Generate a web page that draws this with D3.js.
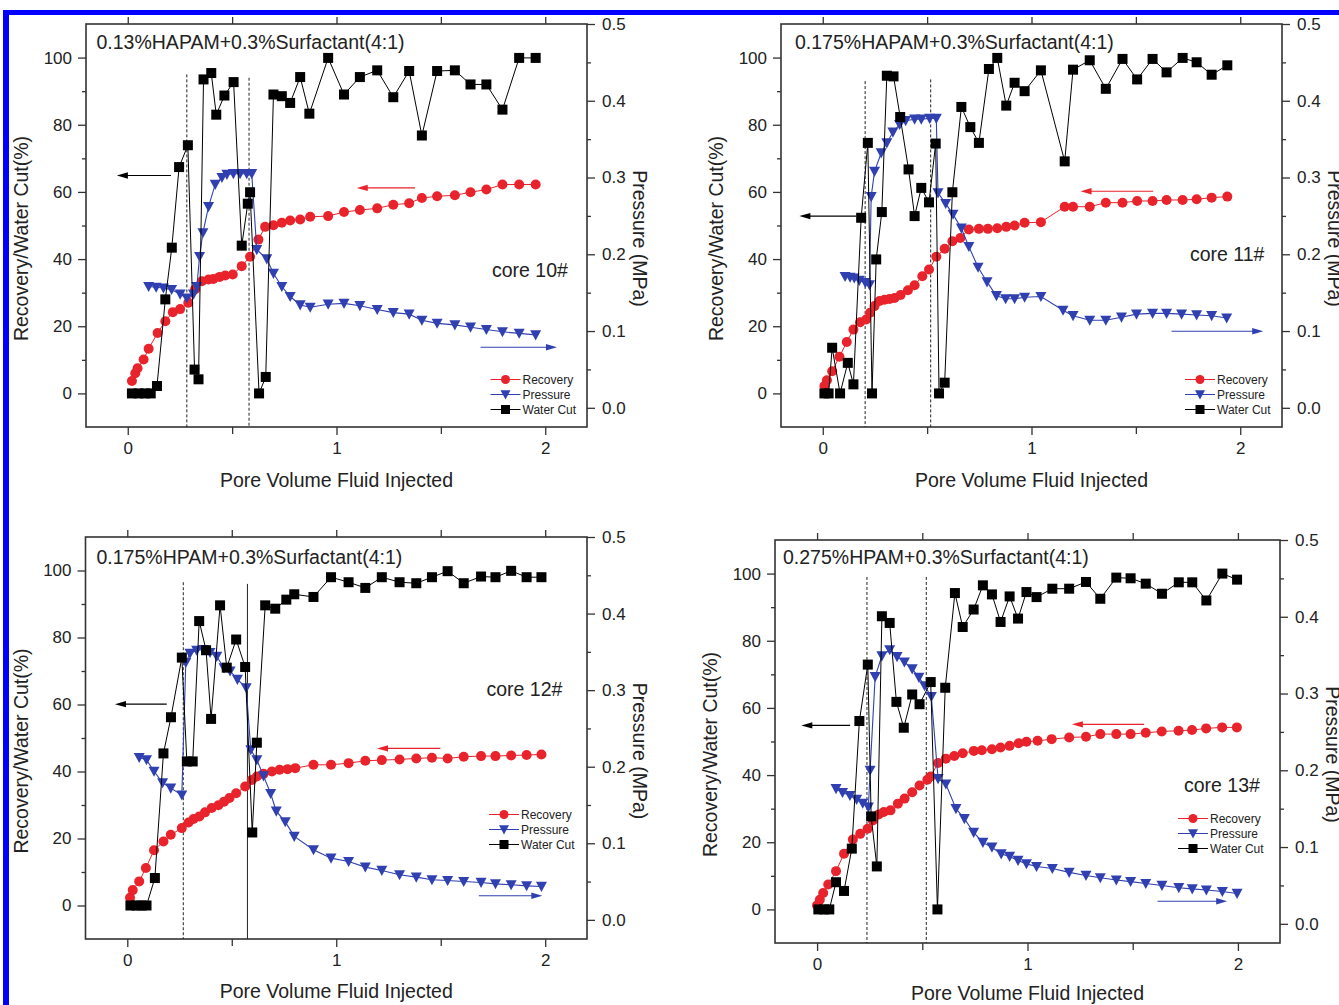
<!DOCTYPE html>
<html><head><meta charset="utf-8">
<script src="https://cdn.jsdelivr.net/npm/d3@7"></script>
<style>body{margin:0;background:#fff}svg{display:block}</style>
</head><body>
<svg id="chart" width="1339" height="1005"></svg>
<script>
// ---------- DATA (x = pore volume injected; recovery & water cut in %, pressure in MPa) ----------
const xTicks = [0, 1, 2];
const xMinorTicks = [0.5, 1.5];
const leftTicks = [0, 20, 40, 60, 80, 100];
const leftMinorTicks = [10, 30, 50, 70, 90];
const rightTicks = [0, 0.1, 0.2, 0.3, 0.4, 0.5];
const rightMinorTicks = [0.05, 0.15, 0.25, 0.35, 0.45];
const seriesNames = ["Recovery", "Pressure", "Water Cut"];
const titles = ["0.13%HAPAM+0.3%Surfactant(4:1)", "0.175%HAPAM+0.3%Surfactant(4:1)",
                "0.175%HPAM+0.3%Surfactant(4:1)", "0.275%HPAM+0.3%Surfactant(4:1)"];
const coreLabels = ["core 10#", "core 11#", "core 12#", "core 13#"];

const recovery10 = [[0.02,3.7],[0.036,6.0],[0.047,7.5],[0.076,10.1],[0.10,13.3],[0.143,18.0],[0.18,21.5],[0.216,24.2],[0.251,25.1],[0.29,27.0],[0.323,31.0],[0.355,33.4],[0.387,33.9],[0.41,34.1],[0.44,34.7],[0.467,35.1],[0.503,35.4],[0.546,37.9],[0.586,40.7],[0.626,45.8],[0.658,49.6],[0.698,50.1],[0.738,50.8],[0.778,51.5],[0.826,51.8],[0.874,52.6],[0.96,52.8],[1.036,54.0],[1.112,54.6],[1.195,55.1],[1.272,56.2],[1.348,56.6],[1.409,58.2],[1.482,58.7],[1.567,59.0],[1.642,59.9],[1.718,60.7],[1.795,62.2],[1.875,62.2],[1.954,62.2]];
const pressure10 = [[0.10,0.158],[0.136,0.157],[0.171,0.156],[0.21,0.154],[0.251,0.148],[0.283,0.143],[0.315,0.148],[0.331,0.158],[0.344,0.197],[0.36,0.228],[0.387,0.262],[0.419,0.291],[0.451,0.300],[0.475,0.304],[0.506,0.305],[0.538,0.305],[0.57,0.305],[0.594,0.305],[0.618,0.206],[0.666,0.194],[0.698,0.175],[0.738,0.158],[0.778,0.145],[0.826,0.134],[0.874,0.131],[0.96,0.135],[1.036,0.136],[1.112,0.133],[1.195,0.128],[1.272,0.124],[1.348,0.122],[1.409,0.114],[1.482,0.110],[1.567,0.108],[1.642,0.105],[1.718,0.102],[1.795,0.099],[1.875,0.097],[1.954,0.095]];
const waterCut10 = [[0.02,0],[0.052,0],[0.083,0],[0.11,0],[0.14,2.2],[0.18,28],[0.211,43.4],[0.246,67.4],[0.288,73.9],[0.32,7.1],[0.339,4.2],[0.363,93.5],[0.40,95.4],[0.424,83],[0.463,88.7],[0.507,92.7],[0.546,44.0],[0.575,56.5],[0.586,59.9],[0.629,0],[0.661,4.9],[0.698,89],[0.738,88.5],[0.778,86.5],[0.826,94.2],[0.87,83.3],[0.96,99.9],[1.036,89],[1.112,94.2],[1.195,96.2],[1.272,88.2],[1.348,96],[1.409,76.8],[1.482,96],[1.567,96.2],[1.642,92],[1.718,92],[1.795,84.5],[1.875,99.9],[1.954,99.9]];

const recovery11 = [[0.008,2.2],[0.02,3.9],[0.045,6.6],[0.08,10.9],[0.115,15.3],[0.147,19.0],[0.179,21.2],[0.208,22.0],[0.227,24.0],[0.248,26.0],[0.272,27.5],[0.296,27.9],[0.32,28.1],[0.344,28.4],[0.373,29.3],[0.408,30.7],[0.44,32.2],[0.477,34.9],[0.509,36.9],[0.544,40.7],[0.584,43.1],[0.621,45.3],[0.659,46.3],[0.70,48.8],[0.748,49.0],[0.791,49.0],[0.836,49.2],[0.879,49.6],[0.919,50.0],[0.967,50.8],[1.045,51.0],[1.159,55.6],[1.199,55.6],[1.279,55.6],[1.356,56.8],[1.436,56.8],[1.506,57.3],[1.58,57.3],[1.647,57.6],[1.724,57.6],[1.791,57.8],[1.863,58.3],[1.938,58.6]];
const pressure11 = [[0.107,0.171],[0.131,0.170],[0.151,0.169],[0.175,0.166],[0.204,0.163],[0.224,0.160],[0.232,0.275],[0.248,0.308],[0.28,0.332],[0.307,0.345],[0.336,0.359],[0.368,0.369],[0.397,0.374],[0.44,0.376],[0.472,0.376],[0.512,0.377],[0.544,0.377],[0.552,0.280],[0.589,0.266],[0.624,0.252],[0.664,0.234],[0.70,0.21],[0.744,0.183],[0.787,0.164],[0.832,0.146],[0.876,0.142],[0.919,0.142],[0.967,0.144],[1.045,0.145],[1.151,0.127],[1.199,0.120],[1.279,0.114],[1.356,0.114],[1.431,0.118],[1.503,0.122],[1.58,0.123],[1.647,0.123],[1.719,0.122],[1.791,0.121],[1.863,0.120],[1.935,0.117]];
const waterCut11 = [[0.008,0],[0.028,0],[0.045,13.6],[0.083,0],[0.12,9.1],[0.147,2.7],[0.184,52.3],[0.216,74.6],[0.236,0],[0.256,39.9],[0.283,54.0],[0.307,94.6],[0.339,94.4],[0.371,82.3],[0.411,66.7],[0.44,52.8],[0.472,61.2],[0.509,56.9],[0.541,74.4],[0.557,0],[0.584,3.2],[0.621,59.9],[0.664,85.3],[0.707,79.3],[0.748,74.6],[0.796,96.6],[0.836,99.9],[0.879,85.7],[0.919,92.5],[0.967,90.0],[1.045,96.2],[1.159,69.1],[1.199,96.4],[1.279,99.2],[1.356,90.7],[1.436,99.6],[1.506,93.5],[1.58,99.6],[1.647,95.6],[1.724,99.9],[1.791,98.6],[1.863,94.9],[1.938,97.7]];

const recovery12 = [[0.013,2.3],[0.026,4.6],[0.057,7.2],[0.089,11.2],[0.128,16.5],[0.173,19.1],[0.208,21.1],[0.261,23.1],[0.293,24.8],[0.317,25.8],[0.345,26.6],[0.372,27.8],[0.404,29.1],[0.436,29.9],[0.463,31.0],[0.489,32.1],[0.521,33.5],[0.564,35.5],[0.596,37.5],[0.62,38.5],[0.652,39.3],[0.692,40.0],[0.729,40.5],[0.767,40.7],[0.804,41.0],[0.891,42.0],[0.975,42.0],[1.059,42.5],[1.139,43.2],[1.218,43.4],[1.303,43.6],[1.383,43.9],[1.458,44.1],[1.533,43.9],[1.61,44.4],[1.693,44.6],[1.762,44.6],[1.837,44.8],[1.911,44.9],[1.982,45.1]];
const pressure12 = [[0.057,0.212],[0.092,0.209],[0.128,0.194],[0.169,0.179],[0.208,0.172],[0.261,0.163],[0.28,0.336],[0.30,0.348],[0.332,0.352],[0.364,0.353],[0.396,0.349],[0.428,0.344],[0.463,0.329],[0.492,0.325],[0.527,0.314],[0.569,0.303],[0.591,0.222],[0.62,0.209],[0.652,0.188],[0.686,0.165],[0.713,0.142],[0.756,0.128],[0.799,0.109],[0.891,0.0915],[0.975,0.0806],[1.059,0.0762],[1.139,0.0689],[1.218,0.0645],[1.303,0.0588],[1.383,0.0558],[1.458,0.0523],[1.533,0.0514],[1.61,0.05],[1.693,0.0488],[1.762,0.047],[1.837,0.0458],[1.911,0.0444],[1.982,0.0436]];
const waterCut12 = [[0.015,0],[0.044,0],[0.068,0],[0.092,0],[0.132,8.2],[0.173,45.4],[0.209,56.2],[0.261,74.0],[0.285,43.0],[0.313,43.0],[0.344,84.9],[0.377,76.2],[0.401,55.7],[0.444,89.6],[0.476,71.0],[0.521,79.4],[0.564,71.2],[0.598,21.8],[0.62,48.6],[0.66,89.6],[0.708,88.6],[0.761,91.3],[0.799,92.9],[0.891,92.1],[0.975,98.0],[1.059,96.5],[1.139,94.8],[1.218,98.0],[1.303,96.5],[1.383,96.2],[1.458,98.0],[1.533,99.8],[1.61,96.2],[1.693,98.2],[1.762,98.0],[1.837,99.9],[1.911,98.0],[1.982,98.0]];

const recovery13 = [[0.0,1.2],[0.013,2.9],[0.029,4.9],[0.053,7.4],[0.09,11.4],[0.128,16.6],[0.17,20.8],[0.205,22.5],[0.24,24.0],[0.265,26.5],[0.293,28.3],[0.317,29.0],[0.349,29.5],[0.384,31.5],[0.416,33.0],[0.452,34.9],[0.487,36.9],[0.524,38.6],[0.54,39.6],[0.575,43.6],[0.612,44.9],[0.652,45.7],[0.692,46.5],[0.745,47.2],[0.783,47.4],[0.831,47.7],[0.872,48.2],[0.915,48.7],[0.958,49.5],[0.995,49.9],[1.048,50.2],[1.115,50.7],[1.198,51.2],[1.278,51.4],[1.346,52.2],[1.422,52.2],[1.49,52.2],[1.562,52.6],[1.638,53.0],[1.718,53.2],[1.782,53.4],[1.849,53.9],[1.925,54.2],[1.995,54.2]];
const pressure13 = [[0.09,0.176],[0.121,0.171],[0.156,0.167],[0.188,0.162],[0.217,0.157],[0.244,0.152],[0.252,0.20],[0.276,0.322],[0.308,0.349],[0.345,0.357],[0.38,0.348],[0.415,0.341],[0.452,0.332],[0.484,0.321],[0.511,0.31],[0.543,0.296],[0.575,0.189],[0.612,0.182],[0.66,0.15],[0.70,0.137],[0.744,0.119],[0.788,0.106],[0.831,0.0998],[0.875,0.0911],[0.915,0.0877],[0.955,0.0825],[0.995,0.0781],[1.043,0.0746],[1.118,0.072],[1.198,0.067],[1.278,0.063],[1.346,0.06],[1.422,0.057],[1.49,0.055],[1.562,0.0525],[1.639,0.05],[1.719,0.047],[1.783,0.0455],[1.85,0.044],[1.926,0.042],[1.996,0.0395]];
const waterCut13 = [[0.006,0],[0.033,0],[0.058,0],[0.09,8.1],[0.128,5.5],[0.165,18.1],[0.201,56.1],[0.241,72.9],[0.257,27.7],[0.284,12.8],[0.308,87.3],[0.345,85.3],[0.377,61.8],[0.412,54.1],[0.452,64.0],[0.487,61.1],[0.54,67.7],[0.572,0],[0.609,66.0],[0.655,94.2],[0.692,84.1],[0.744,89.3],[0.788,96.5],[0.831,93.8],[0.872,85.6],[0.915,93.2],[0.955,86.6],[0.995,94.5],[1.043,93.0],[1.118,95.5],[1.198,95.5],[1.278,97.5],[1.346,92.5],[1.422,98.8],[1.49,98.6],[1.562,97.0],[1.639,94.0],[1.719,97.4],[1.783,97.4],[1.85,92.0],[1.926,100],[1.996,98.2]];

// slug boundaries (x, top of line on left axis, solid?)
const boundaries10 = [[0.283,95,false],[0.581,94,false]];
const boundaries11 = [[0.203,93,false],[0.517,93.5,false]];
const boundaries12 = [[0.268,96.5,false],[0.575,96,true]];
const boundaries13 = [[0.237,99,false],[0.519,99,false]];

// axis-indicator arrows: [x from, x to, y, axis]
const arrows10 = [[0.207,-0.052,64.9,"L"],[1.376,1.097,61.2,"L"],[1.69,2.056,0.0789,"R"]];
const arrows11 = [[0.16,-0.112,52.8,"L"],[1.583,1.235,60.2,"L"],[1.671,2.11,0.0997,"R"]];
const arrows12 = [[0.189,-0.059,60.1,"L"],[1.498,1.195,46.9,"L"],[1.682,1.986,0.0314,"R"]];
const arrows13 = [[0.157,-0.075,54.8,"L"],[1.554,1.211,55.1,"L"],[1.618,1.949,0.0294,"R"]];

// ---------- LAYOUT ----------
const FONT = "'Liberation Sans', Arial, Helvetica, sans-serif";
const RED = "#e8232b", BLUE = "#3040b0", BLACK = "#000", AX = "#333";
const panels = [
  {l:86, r:587, t:24, b:427, title:titles[0], titleX:96.5, titleY:48.5, core:coreLabels[0], coreX:492, coreY:276.5,
   legX:490.5, legY:379.5, xTitleY:487, rec:recovery10, pre:pressure10, wc:waterCut10, bnd:boundaries10, arr:arrows10},
  {l:781, r:1282, t:24, b:427, title:titles[1], titleX:795, titleY:48.5, core:coreLabels[1], coreX:1190, coreY:261,
   legX:1185, legY:379.5, xTitleY:487, rec:recovery11, pre:pressure11, wc:waterCut11, bnd:boundaries11, arr:arrows11},
  {l:85.5, r:587, t:537, b:939, title:titles[2], titleX:96.5, titleY:563.5, core:coreLabels[2], coreX:486.5, coreY:696,
   legX:489, legY:814.5, xTitleY:998, rec:recovery12, pre:pressure12, wc:waterCut12, bnd:boundaries12, arr:arrows12},
  {l:775, r:1280, t:540, b:943, title:titles[3], titleX:783, titleY:563.5, core:coreLabels[3], coreX:1184, coreY:792,
   legX:1178, legY:818.5, xTitleY:1000, rec:recovery13, pre:pressure13, wc:waterCut13, bnd:boundaries13, arr:arrows13}
];

const svg = d3.select("#chart");
svg.append("rect").attr("width",1339).attr("height",1005).attr("fill","#fff");
// blue page border
svg.append("rect").attr("x",3).attr("y",10).attr("width",1336).attr("height",5).attr("fill","#0000ff");
svg.append("rect").attr("x",3).attr("y",10).attr("width",6).attr("height",995).attr("fill","#0000ff");

function tri(cx, cy, s) {
  return `M${cx - s/2},${cy - s*0.42}L${cx + s/2},${cy - s*0.42}L${cx},${cy + s*0.5}Z`;
}

function drawArrow(g, x1, y1, x2, y2, color) {
  const dir = Math.sign(x2 - x1);
  const head = 11, hw = 3.2;
  g.append("line").attr("x1",x1).attr("y1",y1).attr("x2",x2 - dir*head*0.8).attr("y2",y2)
    .attr("stroke",color).attr("stroke-width",1.1);
  g.append("path").attr("d",`M${x2},${y2}L${x2 - dir*head},${y2 - hw}L${x2 - dir*head},${y2 + hw}Z`)
    .attr("fill",color);
}

function drawPanel(p) {
  const g = svg.append("g");
  const x = d3.scaleLinear([-0.2, 2.2], [p.l, p.r]);
  const yL = d3.scaleLinear([-10, 110], [p.b, p.t]);
  const yR = d3.scaleLinear([-0.025, 0.5], [p.b, p.t]);

  const styleAxis = sel => {
    sel.select(".domain").remove();
    sel.selectAll(".tick line").attr("stroke",AX).attr("stroke-width",1.3);
    sel.selectAll(".tick text").attr("fill","#222").style("font-family",FONT).style("font-size","17px");
  };
  // bottom axis
  g.append("g").attr("transform",`translate(0,${p.b})`)
    .call(d3.axisBottom(x).tickValues(xTicks).tickSize(8).tickPadding(7).tickFormat(d3.format("d"))).call(styleAxis);
  g.append("g").attr("transform",`translate(0,${p.b})`)
    .call(d3.axisBottom(x).tickValues(xMinorTicks).tickSize(7).tickFormat("")).call(styleAxis);
  // top axis (mirror)
  g.append("g").attr("transform",`translate(0,${p.t})`)
    .call(d3.axisTop(x).tickValues(xTicks.concat(xMinorTicks)).tickSize(7).tickFormat("")).call(styleAxis);
  // left axis
  g.append("g").attr("transform",`translate(${p.l},0)`)
    .call(d3.axisLeft(yL).tickValues(leftTicks).tickSize(8).tickPadding(6)).call(styleAxis);
  g.append("g").attr("transform",`translate(${p.l},0)`)
    .call(d3.axisLeft(yL).tickValues(leftMinorTicks).tickSize(4).tickFormat("")).call(styleAxis);
  // right axis
  g.append("g").attr("transform",`translate(${p.r},0)`)
    .call(d3.axisRight(yR).tickValues(rightTicks).tickSize(8).tickPadding(7).tickFormat(d3.format(".1f"))).call(styleAxis);
  g.append("g").attr("transform",`translate(${p.r},0)`)
    .call(d3.axisRight(yR).tickValues(rightMinorTicks).tickSize(4).tickFormat("")).call(styleAxis);

  // frame
  g.append("rect").attr("x",p.l).attr("y",p.t).attr("width",p.r - p.l).attr("height",p.b - p.t)
    .attr("fill","none").attr("stroke",AX).attr("stroke-width",1.6);

  // axis titles
  const midY = (p.t + p.b) / 2 + 13;
  g.append("text").attr("transform",`translate(${p.l - 65},${midY}) rotate(-90)`)
    .attr("text-anchor","middle").attr("dominant-baseline","central")
    .style("font-family",FONT).style("font-size","19.5px").attr("fill","#222").text("Recovery/Water Cut(%)");
  g.append("text").attr("transform",`translate(${p.r + 53},${midY}) rotate(90)`)
    .attr("text-anchor","middle").attr("dominant-baseline","central")
    .style("font-family",FONT).style("font-size","19.5px").attr("fill","#222").text("Pressure (MPa)");
  g.append("text").attr("x",x(1)).attr("y",p.xTitleY).attr("text-anchor","middle")
    .style("font-family",FONT).style("font-size","19.5px").attr("fill","#222").text("Pore Volume Fluid Injected");

  // title & core label
  g.append("text").attr("x",p.titleX).attr("y",p.titleY)
    .style("font-family",FONT).style("font-size","19.5px").attr("fill","#222").text(p.title);
  g.append("text").attr("x",p.coreX).attr("y",p.coreY)
    .style("font-family",FONT).style("font-size","19.5px").attr("fill","#222").text(p.core);

  // boundaries
  p.bnd.forEach(([bx, top, solid]) => {
    g.append("line").attr("x1",x(bx)).attr("x2",x(bx)).attr("y1",yL(top)).attr("y2",p.b)
      .attr("stroke","#222").attr("stroke-width",1)
      .attr("stroke-dasharray", solid ? null : "3,2");
  });

  // arrows
  const arrowColors = [BLACK, RED, BLUE];
  p.arr.forEach(([xa, xb, yv, ax], i) => {
    const yy = ax === "L" ? yL(yv) : yR(yv);
    drawArrow(g, x(xa), yy, x(xb), yy, arrowColors[i]);
  });

  // series
  const lineL = d3.line().x(d => x(d[0])).y(d => yL(d[1]));
  const lineR = d3.line().x(d => x(d[0])).y(d => yR(d[1]));
  g.append("path").attr("d",lineL(p.rec)).attr("fill","none").attr("stroke",RED).attr("stroke-width",1);
  g.selectAll(null).data(p.rec).join("circle").attr("cx",d => x(d[0])).attr("cy",d => yL(d[1]))
    .attr("r",5).attr("fill",RED);
  g.append("path").attr("d",lineR(p.pre)).attr("fill","none").attr("stroke",BLUE).attr("stroke-width",1.1);
  g.selectAll(null).data(p.pre).join("path").attr("d",d => tri(x(d[0]), yR(d[1]), 11)).attr("fill",BLUE);
  g.append("path").attr("d",lineL(p.wc)).attr("fill","none").attr("stroke",BLACK).attr("stroke-width",1);
  g.selectAll(null).data(p.wc).join("rect").attr("x",d => x(d[0]) - 5).attr("y",d => yL(d[1]) - 5)
    .attr("width",10).attr("height",10).attr("fill",BLACK);

  // legend
  const colors = [RED, BLUE, BLACK];
  seriesNames.forEach((name, i) => {
    const ly = p.legY + i * 15;
    const lx0 = p.legX, lx1 = p.legX + 30, mx = p.legX + 15;
    g.append("line").attr("x1",lx0).attr("x2",lx1).attr("y1",ly).attr("y2",ly)
      .attr("stroke",colors[i]).attr("stroke-width",1);
    if (i === 0) g.append("circle").attr("cx",mx).attr("cy",ly).attr("r",4.5).attr("fill",RED);
    if (i === 1) g.append("path").attr("d",tri(mx, ly, 10)).attr("fill",BLUE);
    if (i === 2) g.append("rect").attr("x",mx - 4.5).attr("y",ly - 4.5).attr("width",9).attr("height",9).attr("fill",BLACK);
    g.append("text").attr("x",lx1 + 2).attr("y",ly).attr("dominant-baseline","central")
      .style("font-family",FONT).style("font-size","12px").attr("fill","#222").text(name);
  });
}

panels.forEach(drawPanel);
</script>
</body></html>
